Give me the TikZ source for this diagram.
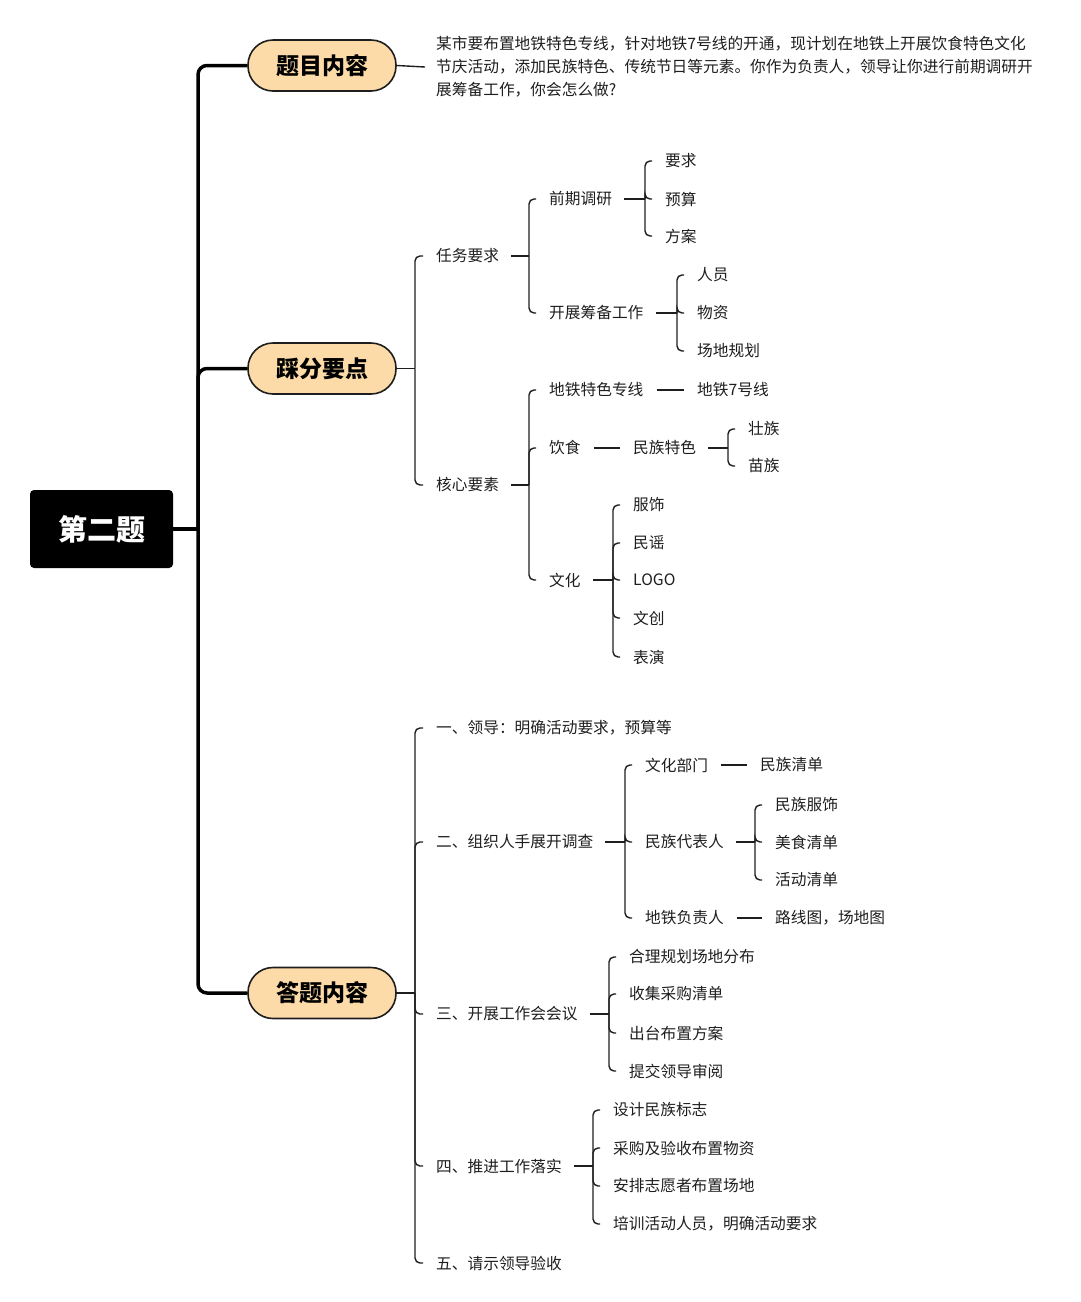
\documentclass[tikz,border=0pt]{standalone}
\usepackage{fontspec}
\setmainfont{Noto Sans CJK SC}
\usetikzlibrary{calc}

\definecolor{peach}{RGB}{252,219,168}
\definecolor{ink}{RGB}{30,30,30}

\tikzset{
	leaf/.style={anchor=west, inner sep=0pt, yshift=-1pt, text=ink, font=\fontsize{15.7}{23}\selectfont},
	topic/.style={draw=ink, line width=1.6pt, fill=peach, rounded corners=25pt,
		minimum width=148pt, minimum height=51pt, font=\fontsize{23}{28}\selectfont\bfseries},
	rootbox/.style={fill=black, rounded corners=4pt, minimum width=143pt, minimum height=78pt,
		text=white, font=\fontsize{29}{34}\selectfont\bfseries},
	trunk/.style={draw=black, line width=3.5pt, rounded corners=9pt},
	link/.style={draw=ink, line width=1.4pt}
}

% parent, x of the fork, children
\newcommand{\fork}[4][12]{
	\path let \p1=(#2.east), \p2=(#3,0) in (\x2,\y1) coordinate (#2-f);
	\draw[link] ([xshift=#1pt]#2.east) -- (#2-f);
	\foreach \kid in {#4}
		\draw[link, rounded corners=5pt] (#2-f) |- ([xshift=-13pt]\kid.west);
}
\newcommand{\pair}[2]{
	\draw[link] ([xshift=13pt]#1.east) -- ([xshift=-13pt]#2.west);
}

\begin{document}
\begin{tikzpicture}[x=1pt, y=-1pt]
\useasboundingbox (0,0) rectangle (1080,1302);

\node[rootbox] (root) at (101.5,529) {第二题};
\node[topic] (tq) at (322,65.5) {题目内容};
\node[topic] (tk) at (322,368.5) {踩分要点};
\node[topic] (ta) at (322,993) {答题内容};

\coordinate (hub) at (198,529);
\draw[trunk] (root.east) -- (hub);
\foreach \tp in {tq,tk,ta}
	\draw[trunk] (hub) |- (\tp.west);

% question
\node[leaf, align=left] (desc) at (436,66) {某市要布置地铁特色专线，针对地铁7号线的开通，现计划在地铁上开展饮食特色文化\\节庆活动，添加民族特色、传统节日等元素。你作为负责人，领导让你进行前期调研开\\展筹备工作，你会怎么做?};
\draw[link] (tq.east) -- ([xshift=-11pt]desc.west);

% scoring points
\node[leaf] (rw) at (436,255) {任务要求};
\node[leaf] (hx) at (436,484) {核心要素};
\node[leaf] (qq) at (549,198) {前期调研};
\node[leaf] (kz) at (549,312) {开展筹备工作};
\node[leaf] (yq) at (665,160) {要求};
\node[leaf] (ys) at (665,198) {预算};
\node[leaf] (fa) at (665,235) {方案};
\node[leaf] (ry) at (697,274) {人员};
\node[leaf] (wz) at (697,312) {物资};
\node[leaf] (cd) at (697,350) {场地规划};
\node[leaf] (dt) at (549,389) {地铁特色专线};
\node[leaf] (ys2) at (549,447) {饮食};
\node[leaf] (wh) at (549,579) {文化};
\node[leaf] (dt7) at (697,389) {地铁7号线};
\node[leaf] (mz) at (633,447) {民族特色};
\node[leaf] (zz) at (748,428) {壮族};
\node[leaf] (mzu) at (748,465) {苗族};
\node[leaf] (fs) at (633,504) {服饰};
\node[leaf] (my) at (633,542) {民谣};
\node[leaf] (lg) at (633,579) {LOGO};
\node[leaf] (wc) at (633,617) {文创};
\node[leaf] (by) at (633,656) {表演};

\fork[0]{tk}{415}{rw,hx}
\fork{rw}{529}{qq,kz}
\fork{qq}{645}{yq,ys,fa}
\fork{kz}{677}{ry,wz,cd}
\fork{hx}{529}{dt,ys2,wh}
\pair{dt}{dt7}
\pair{ys2}{mz}
\fork{mz}{728}{zz,mzu}
\fork{wh}{613}{fs,my,lg,wc,by}

% answer
\node[leaf] (a1) at (436,727) {一、领导：明确活动要求，预算等};
\node[leaf] (a2) at (436,841) {二、组织人手展开调查};
\node[leaf] (a3) at (436,1013) {三、开展工作会会议};
\node[leaf] (a4) at (436,1165) {四、推进工作落实};
\node[leaf] (a5) at (436,1262) {五、请示领导验收};
\node[leaf] (whb) at (645,764) {文化部门};
\node[leaf] (mzd) at (645,841) {民族代表人};
\node[leaf] (dtf) at (645,917) {地铁负责人};
\node[leaf] (mzq) at (760,764) {民族清单};
\node[leaf] (mzf) at (775,804) {民族服饰};
\node[leaf] (msq) at (775,841) {美食清单};
\node[leaf] (hdq) at (775,879) {活动清单};
\node[leaf] (lxt) at (775,917) {路线图，场地图};
\node[leaf] (b1) at (629,956) {合理规划场地分布};
\node[leaf] (b2) at (629,993) {收集采购清单};
\node[leaf] (b3) at (629,1032) {出台布置方案};
\node[leaf] (b4) at (629,1070) {提交领导审阅};
\node[leaf] (c1) at (613,1109) {设计民族标志};
\node[leaf] (c2) at (613,1147) {采购及验收布置物资};
\node[leaf] (c3) at (613,1185) {安排志愿者布置场地};
\node[leaf] (c4) at (613,1223) {培训活动人员，明确活动要求};

\fork[0]{ta}{415}{a1,a2,a3,a4,a5}
\fork{a2}{625}{whb,mzd,dtf}
\pair{whb}{mzq}
\fork{mzd}{755}{mzf,msq,hdq}
\pair{dtf}{lxt}
\fork{a3}{609}{b1,b2,b3,b4}
\fork{a4}{593}{c1,c2,c3,c4}
\end{tikzpicture}
\end{document}
